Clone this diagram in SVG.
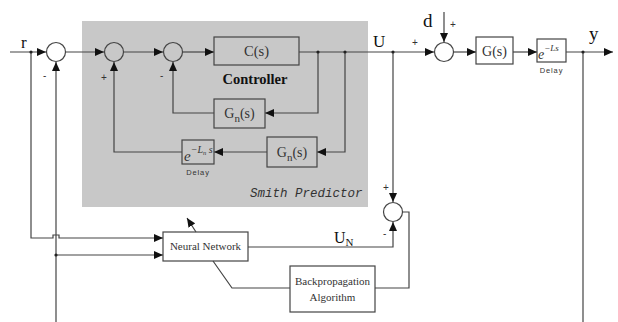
<svg xmlns="http://www.w3.org/2000/svg" width="618" height="322" viewBox="0 0 618 322">
<style>
.ln{fill:none;stroke:#444;stroke-width:1.2}
.bx{fill:none;stroke:#444;stroke-width:1.2}
.sum{fill:none;stroke:#444;stroke-width:1.2}
.t{font-family:"Liberation Serif",serif;fill:#333}
.lb{font-family:"Liberation Serif",serif;fill:#111}
.sg{font-family:"Liberation Sans",sans-serif;fill:#333;font-size:10px}
.dl{font-family:"Liberation Sans",sans-serif;fill:#333;font-size:7.5px;letter-spacing:0.9px}
.dot{fill:#222}
</style>
<defs>
<marker id="ar" markerUnits="userSpaceOnUse" markerWidth="9" markerHeight="8" refX="9" refY="4" orient="auto">
<path d="M0,0 L9,4 L0,8 z" fill="#111"/>
</marker>
</defs>
<rect x="0" y="0" width="618" height="322" fill="#fff"/>
<g id="smith-predictor">
<rect x="82" y="21" width="286" height="186" fill="#c8c8c8"/>
<text x="250" y="197" font-family="'Liberation Mono',monospace" font-style="italic" font-size="12.5" fill="#333">Smith Predictor</text>
</g>
<g id="connectors">
<path class="ln" d="M10,52 H46" marker-end="url(#ar)"/>
<path class="ln" d="M66,52 H104" marker-end="url(#ar)"/>
<path class="ln" d="M124,52 H163" marker-end="url(#ar)"/>
<path class="ln" d="M183,52 H214" marker-end="url(#ar)"/>
<path class="ln" d="M299,52 H434" marker-end="url(#ar)"/>
<path class="ln" d="M444,12 V42" marker-end="url(#ar)"/>
<path class="ln" d="M454,52 H476" marker-end="url(#ar)"/>
<path class="ln" d="M513,52 H537" marker-end="url(#ar)"/>
<path class="ln" d="M566,52 H613" marker-end="url(#ar)"/>
<path class="ln" d="M318,52 V113 H265" marker-end="url(#ar)"/>
<path class="ln" d="M214,113 H173 V62" marker-end="url(#ar)"/>
<path class="ln" d="M345,52 V152 H317" marker-end="url(#ar)"/>
<path class="ln" d="M267,152 H214" marker-end="url(#ar)"/>
<path class="ln" d="M182,152 H114 V62" marker-end="url(#ar)"/>
<path class="ln" d="M56,322 V62" marker-end="url(#ar)"/>
<path class="ln" d="M31,52 V238 H53 V235 H59 V238 H163" marker-end="url(#ar)"/>
<path class="ln" d="M56,255 H163" marker-end="url(#ar)"/>
<path class="ln" d="M393,52 V202" marker-end="url(#ar)"/>
<path class="ln" d="M248,247 H393 V222" marker-end="url(#ar)"/>
<path class="ln" d="M402,212 H409 V288 H375"/>
<path class="ln" d="M290,288 H232 L213,261"/>
<path class="ln" d="M196,232 L187,218" marker-end="url(#ar)"/>
<path class="ln" d="M583,52 V322"/>
<circle class="dot" cx="31" cy="52" r="1.6"/>
<circle class="dot" cx="318" cy="52" r="1.6"/>
<circle class="dot" cx="345" cy="52" r="1.6"/>
<circle class="dot" cx="393" cy="52" r="1.6"/>
<circle class="dot" cx="583" cy="52" r="1.6"/>
<circle class="dot" cx="56" cy="255" r="1.6"/>
</g>
<g id="sum1"><circle class="sum" cx="56" cy="52" r="9.5"/><text class="sg" x="43" y="79">-</text></g>
<g id="sum2"><circle class="sum" cx="114" cy="52" r="9.5"/><text class="sg" x="101" y="81">+</text></g>
<g id="sum3"><circle class="sum" cx="173" cy="52" r="9.5"/><text class="sg" x="160" y="79">-</text></g>
<g id="sum4"><circle class="sum" cx="444" cy="52" r="9.5"/><text class="sg" x="450" y="28" font-size="8">+</text><text class="sg" x="412" y="46" font-size="8">+</text></g>
<g id="sum5"><circle class="sum" cx="393" cy="212" r="9.5"/><text class="sg" x="383" y="191" font-size="9">+</text><text class="sg" x="383" y="237">-</text></g>
<g id="controller">
<rect class="bx" x="214" y="37" width="85" height="28"/>
<text class="t" x="256.5" y="56" font-size="14.5" text-anchor="middle">C(s)</text>
<text class="lb" x="255" y="84" font-size="14.5" font-weight="bold" text-anchor="middle" fill="#222">Controller</text>
</g>
<g id="gn1">
<rect class="bx" x="214" y="99" width="51" height="29"/>
<text class="t" x="239.5" y="118" font-size="14" text-anchor="middle">G<tspan font-size="11" dy="4">n</tspan><tspan dy="-4">(s)</tspan></text>
</g>
<g id="gn2">
<rect class="bx" x="267" y="137" width="50" height="30"/>
<text class="t" x="292" y="157" font-size="14" text-anchor="middle">G<tspan font-size="11" dy="4">n</tspan><tspan dy="-4">(s)</tspan></text>
</g>
<g id="delay1">
<rect class="bx" x="182" y="140" width="32" height="24"/>
<text class="t" x="184" y="161" font-size="15" font-style="italic" fill="#111">e<tspan font-size="10" dy="-8">−L</tspan><tspan font-size="6.5" dy="2">n</tspan><tspan font-size="10" dy="-2"> s</tspan></text>
<text class="dl" x="198" y="175" text-anchor="middle">Delay</text>
</g>
<g id="plant">
<rect class="bx" x="476" y="37" width="37" height="27"/>
<text class="t" x="494.5" y="56" font-size="14" text-anchor="middle">G(s)</text>
</g>
<g id="delay2">
<rect class="bx" x="537" y="39" width="29" height="23"/>
<text class="t" x="538" y="59" font-size="14" font-style="italic" fill="#111">e<tspan font-size="9" dy="-8">−Ls</tspan></text>
<text class="dl" x="551.5" y="73" text-anchor="middle">Delay</text>
</g>
<g id="neural-network">
<rect class="bx" x="163" y="232" width="85" height="29" fill="#fff"/>
<text class="t" x="205.5" y="250" font-size="11" text-anchor="middle" fill="#222">Neural Network</text>
</g>
<g id="backprop">
<rect class="bx" x="290" y="266" width="85" height="46"/>
<text class="t" x="332.5" y="285" font-size="11" text-anchor="middle" fill="#222">Backpropagation</text>
<text class="t" x="332.5" y="301" font-size="11" text-anchor="middle" fill="#222">Algorithm</text>
</g>
<g id="labels">
<text class="lb" x="21" y="48" font-size="17">r</text>
<text class="lb" x="373" y="47" font-size="17">U</text>
<text class="lb" x="423" y="27" font-size="19">d</text>
<text class="lb" x="589" y="40" font-size="19">y</text>
<text class="lb" x="334" y="243" font-size="16">U<tspan font-size="11" dy="3">N</tspan></text>
</g>
</svg>
